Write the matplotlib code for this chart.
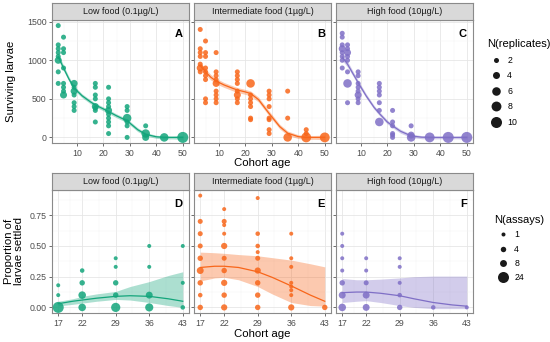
import numpy as np
import matplotlib.pyplot as plt
from matplotlib.lines import Line2D

plt.rcParams['font.family'] = ['Liberation Sans', 'DejaVu Sans']

# ---- data (age, value, n) ----
surv_low = [(3, 1450, 2), (3, 1200, 2), (3, 1150, 2), (3, 1100, 2), (3, 1050, 2), (3, 1000, 4), (3, 850, 2), (3, 700, 2),
            (5, 1300, 2), (5, 1150, 2), (5, 1100, 2), (5, 900, 2), (5, 700, 2), (5, 650, 2), (5, 600, 2), (5, 550, 4),
            (9, 700, 4), (9, 650, 2), (9, 600, 4), (9, 550, 2), (9, 450, 2), (9, 400, 2), (9, 350, 2),
            (17, 700, 2), (17, 650, 2), (17, 550, 2), (17, 500, 2), (17, 400, 4), (17, 380, 2), (17, 350, 2), (17, 200, 2),
            (22, 650, 2), (22, 500, 2), (22, 450, 2), (22, 400, 2), (22, 350, 4), (22, 300, 2), (22, 250, 2),
            (22, 200, 2), (22, 150, 2), (22, 50, 2),
            (29, 400, 2), (29, 350, 2), (29, 250, 6), (29, 200, 2), (29, 150, 2), (29, 0, 2),
            (36, 150, 2), (36, 50, 6), (36, 0, 4),
            (43, 0, 6), (50, 0, 10)]
surv_int = [(3, 1400, 2), (3, 1150, 2), (3, 1100, 2), (3, 1050, 2), (3, 950, 2), (3, 900, 4), (3, 850, 2),
            (5, 1250, 2), (5, 1100, 2), (5, 1050, 2), (5, 900, 2), (5, 850, 2), (5, 800, 2), (5, 750, 2),
            (5, 500, 2), (5, 450, 2),
            (9, 1100, 2), (9, 850, 2), (9, 800, 2), (9, 750, 2), (9, 700, 4), (9, 600, 2), (9, 550, 2),
            (9, 500, 2), (9, 450, 2),
            (17, 850, 2), (17, 800, 2), (17, 750, 2), (17, 700, 2), (17, 600, 2), (17, 550, 4), (17, 500, 2), (17, 450, 2),
            (22, 700, 6), (22, 550, 2), (22, 500, 2), (22, 450, 2), (22, 400, 2), (22, 250, 2), (22, 230, 2),
            (29, 600, 2), (29, 550, 2), (29, 500, 2), (29, 400, 2), (29, 250, 2), (29, 230, 2), (29, 100, 2), (29, 50, 2),
            (36, 600, 2), (36, 250, 2), (36, 0, 6),
            (43, 100, 2), (43, 50, 2), (43, 0, 8), (50, 0, 8)]
surv_high = [(3, 1350, 2), (3, 1300, 2), (3, 1200, 2), (3, 1150, 4), (3, 1100, 2), (3, 1050, 2), (3, 1000, 2), (3, 900, 2),
             (5, 1200, 2), (5, 1150, 2), (5, 1100, 4), (5, 1050, 2), (5, 1000, 2), (5, 850, 2), (5, 700, 6), (5, 450, 2),
             (9, 850, 2), (9, 800, 2), (9, 700, 2), (9, 650, 2), (9, 600, 2), (9, 550, 4), (9, 500, 2), (9, 450, 2),
             (17, 700, 2), (17, 650, 2), (17, 600, 2), (17, 550, 2), (17, 450, 2), (17, 350, 2), (17, 200, 6),
             (22, 350, 2), (22, 200, 2), (22, 150, 2), (22, 50, 2), (22, 30, 2), (22, 0, 2),
             (29, 150, 2), (29, 30, 4), (29, 0, 6),
             (36, 0, 8), (43, 0, 10), (50, 0, 10)]

settle_low = [(17, 0, 24), (17, 0.1, 1), (17, 0.18, 1),
              (22, 0, 10), (22, 0.1, 10), (22, 0.2, 4), (22, 0.3, 2),
              (29, 0, 16), (29, 0.1, 4), (29, 0.2, 4), (29, 0.33, 1), (29, 0.4, 1),
              (36, 0, 12), (36, 0.1, 8), (36, 0.33, 1), (36, 0.5, 1),
              (43, 0, 2), (43, 0.2, 1), (43, 0.5, 1)]
settle_int = [(17, 0, 4), (17, 0.1, 2), (17, 0.2, 4), (17, 0.3, 8), (17, 0.4, 4), (17, 0.5, 3), (17, 0.6, 3),
              (17, 0.7, 3), (17, 0.91, 1),
              (22, 0, 6), (22, 0.1, 4), (22, 0.2, 6), (22, 0.3, 4), (22, 0.4, 3), (22, 0.5, 6), (22, 0.6, 1),
              (22, 0.67, 1), (22, 0.7, 3), (22, 0.8, 1),
              (29, 0, 4), (29, 0.1, 4), (29, 0.2, 4), (29, 0.3, 6), (29, 0.4, 3), (29, 0.45, 1), (29, 0.5, 2),
              (29, 0.6, 2), (29, 0.89, 1),
              (36, 0, 6), (36, 0.1, 1), (36, 0.14, 1), (36, 0.17, 1), (36, 0.2, 1), (36, 0.33, 1), (36, 0.4, 1),
              (36, 0.6, 1),
              (43, 0, 4)]
settle_high = [(17, 0, 10), (17, 0.1, 8), (17, 0.2, 4), (17, 0.3, 1), (17, 0.4, 1), (17, 0.5, 1), (17, 0.6, 1),
               (22, 0, 8), (22, 0.1, 8), (22, 0.2, 3), (22, 0.3, 1), (22, 0.4, 1),
               (29, 0, 4), (29, 0.1, 2), (29, 0.2, 1), (29, 0.33, 1), (29, 0.4, 1),
               (36, 0, 2), (43, 0, 1)]

# smoothed fits
fit_age_top = [3, 5, 7, 9, 12, 15, 17, 20, 22, 25, 29, 33, 36, 40, 43, 46, 50]
fit_surv_low = [1050, 900, 760, 640, 540, 465, 420, 370, 335, 280, 215, 100, 40, 8, 0, 0, 0]
fit_surv_int = [930, 850, 780, 730, 680, 640, 615, 590, 570, 490, 310, 140, 55, 10, 0, 0, 0]
fit_surv_high = [1043, 950, 830, 711, 540, 390, 310, 200, 150, 80, 20, 3, 0, 0, 0, 0, 0]
se_surv_low = [45, 35, 30, 28, 25, 25, 25, 25, 25, 25, 25, 25, 22, 20, 20, 20, 25]
se_surv_int = [45, 40, 35, 35, 32, 32, 32, 32, 32, 32, 32, 30, 28, 25, 25, 25, 30]
se_surv_high = [45, 38, 32, 30, 28, 25, 25, 25, 25, 25, 22, 20, 20, 18, 18, 18, 22]

fit_age_bot = [17, 20, 22, 25, 29, 32, 36, 40, 43]
fit_set_low = [0.03, 0.05, 0.06, 0.075, 0.09, 0.095, 0.09, 0.07, 0.05]
lo_set_low = [0.012, 0.025, 0.035, 0.05, 0.065, 0.06, 0.04, 0.015, 0.0]
hi_set_low = [0.05, 0.07, 0.09, 0.11, 0.13, 0.17, 0.21, 0.26, 0.29]
fit_set_int = [0.325, 0.335, 0.335, 0.325, 0.29, 0.245, 0.175, 0.1, 0.05]
lo_set_int = [0.215, 0.24, 0.245, 0.225, 0.17, 0.11, 0.04, 0.015, 0.01]
hi_set_int = [0.45, 0.445, 0.44, 0.43, 0.42, 0.405, 0.385, 0.355, 0.33]
fit_set_high = [0.12, 0.125, 0.125, 0.115, 0.095, 0.07, 0.04, 0.02, 0.01]
lo_set_high = [0.04, 0.05, 0.055, 0.04, 0.015, 0.0, -0.01, -0.01, -0.01]
hi_set_high = [0.235, 0.225, 0.225, 0.23, 0.24, 0.25, 0.255, 0.255, 0.255]

foods = ['Low food (0.1µg/L)', 'Intermediate food (1µg/L)', 'High food (10µg/L)']
colors = ['#13a57b', '#f8661a', '#7f6fc6']
letters_top = ['A', 'B', 'C']
letters_bot = ['D', 'E', 'F']
rep_breaks = [2, 4, 6, 8, 10]
assay_breaks = [1, 4, 8, 24]

W, H = 550, 342
fig = plt.figure(figsize=(W / 100, H / 100), dpi=100)


def px_axes(x0, y0, w, h):
    return fig.add_axes([x0 / W, 1 - (y0 + h) / H, w / W, h / H])


def size_rep(n):
    return 0.52 * (1 + 12 * np.asarray(n, dtype=float))


def size_assay(n):
    return 5.9 + 2.37 * np.asarray(n, dtype=float)


def style_panel(ax, title, letter):
    ax.set_facecolor('white')
    for s in ax.spines.values():
        s.set_color('#8a8a8a')
        s.set_linewidth(0.8)
    ax.grid(which='major', color='#e6e6e6', lw=0.6)
    ax.grid(which='minor', color='#f3f3f3', lw=0.35)
    ax.set_axisbelow(True)
    ax.tick_params(which='major', length=2.5, width=0.6, color='#555555', labelsize=6.3,
                   labelcolor='#4d4d4d', pad=1.5)
    ax.tick_params(which='minor', length=0)
    ax.text(0.955, 0.93, letter, transform=ax.transAxes, ha='right', va='top',
            fontsize=8, fontweight='bold')
    pos = ax.get_position()
    sax = fig.add_axes([pos.x0, pos.y1, pos.width, 17 / H])
    sax.set_facecolor('#d9d9d9')
    sax.set_xticks([])
    sax.set_yticks([])
    for s in sax.spines.values():
        s.set_color('#8a8a8a')
        s.set_linewidth(0.8)
    sax.text(0.5, 0.48, title, ha='center', va='center', fontsize=6.5, color='#1a1a1a')


col_x = [52, 194, 336]
pw = 137

top_data = [surv_low, surv_int, surv_high]
top_fits = [fit_surv_low, fit_surv_int, fit_surv_high]
top_se = [se_surv_low, se_surv_int, se_surv_high]
for i in range(3):
    ax = px_axes(col_x[i], 20, pw, 123)
    d = np.array(top_data[i], dtype=float)
    ax.scatter(d[:, 0], d[:, 1], s=size_rep(d[:, 2]), color=colors[i], alpha=0.85,
               linewidths=0, zorder=3)
    f = np.array(top_fits[i], dtype=float)
    se = np.array(top_se[i], dtype=float)
    ax.fill_between(fit_age_top, f - se, f + se, color=colors[i], alpha=0.35, lw=0, zorder=4)
    ax.plot(fit_age_top, f, color=colors[i], lw=0.9, zorder=5)
    ax.set_xlim(0.65, 52.35)
    ax.set_ylim(-72.5, 1522.5)
    ax.set_xticks([10, 20, 30, 40, 50])
    ax.set_xticks([5, 15, 25, 35, 45], minor=True)
    ax.set_yticks([0, 500, 1000, 1500])
    ax.set_yticks([250, 750, 1250], minor=True)
    if i > 0:
        ax.set_yticklabels([])
        ax.tick_params(axis='y', length=0)
    style_panel(ax, foods[i], letters_top[i])

bot_data = [settle_low, settle_int, settle_high]
bot_fit = [fit_set_low, fit_set_int, fit_set_high]
bot_lo = [lo_set_low, lo_set_int, lo_set_high]
bot_hi = [hi_set_low, hi_set_int, hi_set_high]
for i in range(3):
    ax = px_axes(col_x[i], 190, pw, 123)
    d = np.array(bot_data[i], dtype=float)
    ax.scatter(d[:, 0], d[:, 1], s=size_assay(d[:, 2]), color=colors[i], alpha=0.85,
               linewidths=0, zorder=3)
    ax.fill_between(fit_age_bot, bot_lo[i], bot_hi[i], color=colors[i], alpha=0.35, lw=0, zorder=4)
    ax.plot(fit_age_bot, bot_fit[i], color=colors[i], lw=0.9, zorder=5)
    ax.set_xlim(15.7, 44.3)
    ax.set_ylim(-0.0455, 0.9555)
    ax.set_xticks([17, 22, 29, 36, 43])
    ax.set_xticks([19.5, 25.5, 32.5, 39.5], minor=True)
    ax.set_yticks([0, 0.25, 0.5, 0.75])
    ax.set_yticklabels(['0.00', '0.25', '0.50', '0.75'])
    ax.set_yticks([0.125, 0.375, 0.625, 0.875], minor=True)
    if i > 0:
        ax.set_yticklabels([])
        ax.tick_params(axis='y', length=0)
    style_panel(ax, foods[i], letters_bot[i])

# axis titles
fig.text(262 / W, 1 - 163 / H, 'Cohort age', ha='center', va='center', fontsize=8.2)
fig.text(262 / W, 1 - 334 / H, 'Cohort age', ha='center', va='center', fontsize=8.2)
fig.text(11 / W, 1 - 81 / H, 'Surviving larvae', ha='center', va='center', rotation=90, fontsize=8.2)
fig.text(14 / W, 1 - 251 / H, 'Proportion of\nlarvae settled', ha='center', va='center',
         rotation=90, fontsize=8.2, linespacing=1.0)

# size legends
h_rep = [Line2D([], [], ls='', marker='o', markersize=np.sqrt(size_rep(n)), color='#1a1a1a',
                markeredgewidth=0) for n in rep_breaks]
leg1 = fig.legend(h_rep, [str(n) for n in rep_breaks], title='N(replicates)', loc='upper left',
                  bbox_to_anchor=(481 / W, 1 - 33 / H), frameon=False, fontsize=6.3,
                  title_fontsize=8, labelspacing=0.75, handletextpad=0.3, borderpad=0.2)
leg1._legend_box.align = 'left'
h_as = [Line2D([], [], ls='', marker='o', markersize=np.sqrt(size_assay(n)), color='#1a1a1a',
               markeredgewidth=0) for n in assay_breaks]
leg2 = fig.legend(h_as, [str(n) for n in assay_breaks], title='N(assays)', loc='upper left',
                  bbox_to_anchor=(488 / W, 1 - 209 / H), frameon=False, fontsize=6.3,
                  title_fontsize=8, labelspacing=0.6, handletextpad=0.3, borderpad=0.2)
leg2._legend_box.align = 'left'

fig.savefig('out.png', dpi=100)
